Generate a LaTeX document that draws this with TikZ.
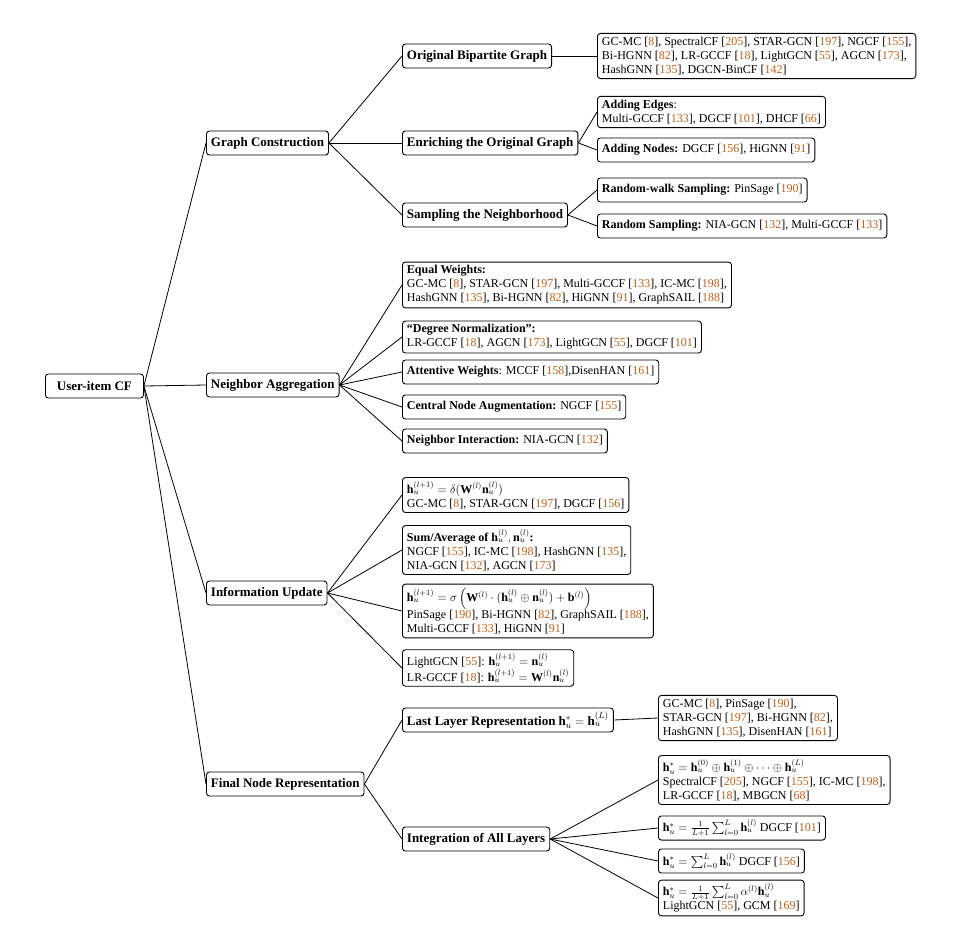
\documentclass[tikz,border=0pt]{standalone}
\usepackage{amsmath}
\usepackage{fontspec}
\setmainfont{Liberation Serif}
\definecolor{citec}{RGB}{190,95,25}
\newcommand{\ct}[1]{[\textcolor{citec}{#1}]}
\newcommand{\hv}{\mathbf{h}}
\newcommand{\nv}{\mathbf{n}}
\newcommand{\Wv}{\mathbf{W}}
\tikzset{
  box/.style={draw, rounded corners=3pt, line width=0.9pt, align=left, inner xsep=4.5pt, inner ysep=3.5pt, minimum height=24pt, anchor=west, font=\fontsize{12}{14}\selectfont},
  cat/.style={box, font=\fontsize{13}{14}\selectfont\bfseries},
  edge/.style={line width=0.8pt}
}
\begin{document}
\begin{tikzpicture}[x=1pt,y=-1pt]
\useasboundingbox (0,0) rectangle (956,935);
% root
\node[cat, align=center, minimum width=98pt] (root) at (45,386) {User-item CF};
% level 1
\node[cat] (gc) at (206,143) {Graph Construction};
\node[cat] (na) at (206,385) {Neighbor Aggregation};
\node[cat] (iu) at (206,593) {Information Update};
\node[cat] (fnr) at (206,784) {Final Node Representation};
% graph construction
\node[cat] (obg) at (402,56) {Original Bipartite Graph};
\node[cat] (eog) at (402,143) {Enriching the Original Graph};
\node[cat] (stn) at (402,215) {Sampling the Neighborhood};
\node[box] (obgL) at (597,56) {GC-MC \ct{8}, SpectralCF \ct{205}, STAR-GCN \ct{197}, NGCF \ct{155},\\Bi-HGNN \ct{82}, LR-GCCF \ct{18}, LightGCN \ct{55}, AGCN \ct{173},\\HashGNN \ct{135}, DGCN-BinCF \ct{142}};
\node[box] (ae) at (597,112) {\textbf{Adding Edges}:\\Multi-GCCF \ct{133}, DGCF \ct{101}, DHCF \ct{66}};
\node[box] (an) at (597,150) {\textbf{Adding Nodes:} DGCF \ct{156}, HiGNN \ct{91}};
\node[box] (rw) at (597,190) {\textbf{Random-walk Sampling:} PinSage \ct{190}};
\node[box] (rs) at (597,226) {\textbf{Random Sampling:} NIA-GCN \ct{132}, Multi-GCCF \ct{133}};
% neighbor aggregation
\node[box] (ew) at (402,285) {\textbf{Equal Weights:}\\GC-MC \ct{8}, STAR-GCN \ct{197}, Multi-GCCF \ct{133}, IC-MC \ct{198},\\HashGNN \ct{135}, Bi-HGNN \ct{82}, HiGNN \ct{91}, GraphSAIL \ct{188}};
\node[box] (dn) at (402,337) {\textbf{``Degree Normalization'':}\\LR-GCCF \ct{18}, AGCN \ct{173}, LightGCN \ct{55}, DGCF \ct{101}};
\node[box] (aw) at (402,372) {\textbf{Attentive Weights}: MCCF \ct{158},DisenHAN \ct{161}};
\node[box] (cna) at (402,407) {\textbf{Central Node Augmentation:} NGCF \ct{155}};
\node[box] (ni) at (402,441) {\textbf{Neighbor Interaction:} NIA-GCN \ct{132}};
% information update
\node[box] (u1) at (402,495) {$\hv_u^{(l+1)} = \delta(\Wv^{(l)}\nv_u^{(l)})$\\GC-MC \ct{8}, STAR-GCN \ct{197}, DGCF \ct{156}};
\node[box] (u2) at (402,550) {\textbf{Sum/Average of} $\hv_u^{(l)}, \nv_u^{(l)}$\textbf{:}\\NGCF \ct{155}, IC-MC \ct{198}, HashGNN \ct{135},\\NIA-GCN \ct{132}, AGCN \ct{173}};
\node[box] (u3) at (402,611) {$\hv_u^{(l+1)} = \sigma\left(\Wv^{(l)}\cdot(\hv_u^{(l)}\oplus\nv_u^{(l)}) + \mathbf{b}^{(l)}\right)$\\PinSage \ct{190}, Bi-HGNN \ct{82}, GraphSAIL \ct{188},\\Multi-GCCF \ct{133}, HiGNN \ct{91}};
\node[box] (u4) at (402,668) {LightGCN \ct{55}: $\hv_u^{(l+1)} = \nv_u^{(l)}$\\LR-GCCF \ct{18}: $\hv_u^{(l+1)} = \Wv^{(l)}\nv_u^{(l)}$};
% final node representation
\node[cat] (ll) at (402,720) {Last Layer Representation $\hv_u^{*} = \hv_u^{(L)}$};
\node[cat] (ia) at (402,839) {Integration of All Layers};
\node[box] (llL) at (658,718) {GC-MC \ct{8}, PinSage \ct{190},\\STAR-GCN \ct{197}, Bi-HGNN \ct{82},\\HashGNN \ct{135}, DisenHAN \ct{161}};
\node[box] (i1) at (658,780) {$\hv_u^{*} = \hv_u^{(0)}\oplus\hv_u^{(1)}\oplus\cdots\oplus\hv_u^{(L)}$\\SpectralCF \ct{205}, NGCF \ct{155}, IC-MC \ct{198},\\LR-GCCF \ct{18}, MBGCN \ct{68}};
\node[box] (i2) at (658,828) {$\hv_u^{*} = \frac{1}{L+1}\sum_{l=0}^{L}\hv_u^{(l)}$ DGCF \ct{101}};
\node[box] (i3) at (658,861) {$\hv_u^{*} = \sum_{l=0}^{L}\hv_u^{(l)}$ DGCF \ct{156}};
\node[box] (i4) at (658,898) {$\hv_u^{*} = \frac{1}{L+1}\sum_{l=0}^{L}\alpha^{(l)}\hv_u^{(l)}$\\LightGCN \ct{55}, GCM \ct{169}};
% edges
\foreach \c in {gc,na,iu,fnr} \draw[edge] (root.east) -- (\c.west);
\foreach \c in {obg,eog,stn} \draw[edge] (gc.east) -- (\c.west);
\draw[edge] (obg.east) -- (obgL.west);
\foreach \c in {ae,an} \draw[edge] (eog.east) -- (\c.west);
\foreach \c in {rw,rs} \draw[edge] (stn.east) -- (\c.west);
\foreach \c in {ew,dn,aw,cna,ni} \draw[edge] (na.east) -- (\c.west);
\foreach \c in {u1,u2,u3,u4} \draw[edge] (iu.east) -- (\c.west);
\foreach \c in {ll,ia} \draw[edge] (fnr.east) -- (\c.west);
\draw[edge] (ll.east) -- (llL.west);
\foreach \c in {i1,i2,i3,i4} \draw[edge] (ia.east) -- (\c.west);
\end{tikzpicture}
\end{document}
